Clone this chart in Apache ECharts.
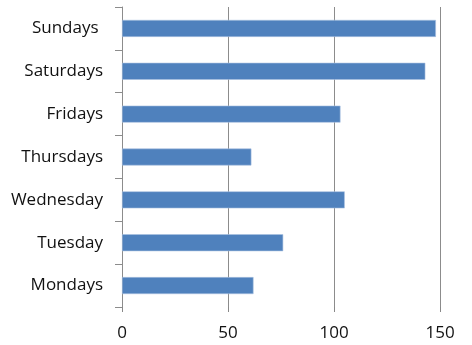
<!DOCTYPE html>
<html>
<head>
<meta charset="utf-8">
<script src="https://cdn.jsdelivr.net/npm/echarts@6/dist/echarts.min.js"></script>
<style>
  html, body { margin: 0; padding: 0; background: #fff; }
  #chart { width: 472px; height: 345px; }
</style>
</head>
<body>
<div id="chart"></div>
<script>
// Days listed bottom to top
const days = ['Mondays', 'Tuesday', 'Wednesday', 'Thursdays', 'Fridays', 'Saturdays', 'Sundays '];
const counts = [62, 76, 105, 61, 103, 143, 148];
const xTicks = [0, 50, 100, 150];

const chart = echarts.init(document.getElementById('chart'));
const fontFamily = 'Open Sans, Liberation Sans, sans-serif';

chart.setOption({
  animation: false,
  grid: { left: 122, right: 0, top: 7, bottom: 38, containLabel: false },
  xAxis: {
    type: 'value',
    min: xTicks[0],
    max: 165,
    interval: 50,
    axisLine: { show: false },
    axisTick: { show: true, length: 5, lineStyle: { color: '#888' } },
    axisLabel: {
      margin: 18,
      color: '#111',
      fontSize: 17,
      fontFamily,
      showMaxLabel: false,
      formatter: v => (xTicks.includes(v) ? String(v) : '')
    },
    splitLine: { show: true, lineStyle: { color: '#8c8c8c', width: 1 } }
  },
  yAxis: {
    type: 'category',
    data: days,
    axisLine: { show: true, lineStyle: { color: '#8c8c8c' } },
    axisTick: { show: true, length: 7, alignWithLabel: false, lineStyle: { color: '#8c8c8c' } },
    axisLabel: { margin: 19, color: '#111', fontSize: 17, fontFamily }
  },
  series: [{
    type: 'bar',
    data: counts,
    barWidth: 17,
    itemStyle: { color: '#4F81BD', borderColor: '#A9C1E0', borderWidth: 0.6 }
  }]
});
</script>
</body>
</html>
